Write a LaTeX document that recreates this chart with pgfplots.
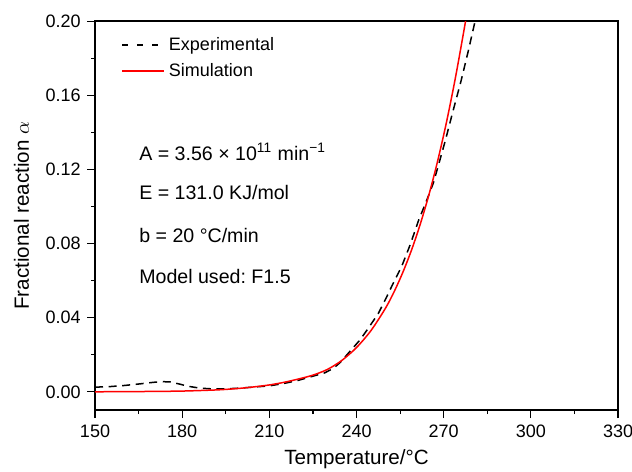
\documentclass[border=0pt]{standalone}
\usepackage{pgfplots}
\pgfplotsset{compat=1.18}
\usepackage{fontspec}
\setmainfont{Liberation Sans}
\begin{document}
\frenchspacing
\fontsize{9pt}{11pt}\selectfont
\begin{tikzpicture}
\begin{axis}[
  scale only axis,
  width=261.5pt, height=194.5pt,
  xmin=150, xmax=330, ymin=-0.0099, ymax=0.20,
  xtick={150,180,...,330},
  ytick={0,0.04,...,0.2},
  minor x tick num=1, minor y tick num=1,
  tick align=outside, xtick pos=bottom, ytick pos=left,
  major tick length=4pt, minor tick length=2pt,
  axis line style={line width=0.8pt},
  every tick/.style={black, line width=0.6pt},
  /pgf/number format/assume math mode=true,
  yticklabel style={/pgf/number format/.cd, fixed, fixed zerofill, precision=2},
  xticklabel style={/pgf/number format/1000 sep={}},
  tick label style={font=\fontsize{9pt}{11pt}\selectfont},
  label style={font=\fontsize{10.3pt}{12pt}\selectfont},
  xlabel={Temperature/°C},
  ylabel={Fractional reaction $\alpha$},
  xlabel style={yshift=0pt},
  ylabel style={yshift=2pt},
  clip=true,
  legend style={at={(0.046,0.975)}, anchor=north west, draw=none, fill=none,
    font=\fontsize{9pt}{11pt}\selectfont, row sep=1pt, inner sep=1pt},
  legend cell align=left,
  legend image code/.code={\draw[#1] (0pt,0pt) -- (21pt,0pt);},
]
\addlegendimage{black, line width=0.75pt, dash pattern=on 3pt off 4.5pt}
\addlegendentry{Experimental}
\addlegendimage{red, line width=0.75pt}
\addlegendentry{Simulation}
\addplot[black, line width=0.75pt, dash pattern=on 4pt off 2.8pt, forget plot] coordinates {
(150,0.0025) (155,0.0028) (160,0.0034) (165,0.0042) (170,0.0051) (173,0.0055)
(176,0.0053) (179,0.0042) (182,0.0030) (186,0.0020) (190,0.0016) (195,0.0016)
(200,0.0020) (205,0.0026) (210,0.0032) (215,0.0045) (220,0.0062) (224,0.0080)
(226.3,0.0090) (229,0.0102) (232,0.0126) (234.5,0.0160) (236.6,0.0198)
(241.2,0.0280) (244,0.0342) (247.5,0.0423) (250,0.0500) (252.6,0.0585)
(255.5,0.0675) (258.5,0.0795) (261.4,0.0927) (264,0.1027) (266.4,0.1125)
(268.5,0.1240) (270.6,0.1358) (273.2,0.1515) (275.9,0.1673) (278.4,0.1835)
(280.8,0.2000) (281.5,0.2045)
};
\addplot[red, line width=0.75pt, smooth, forget plot] coordinates {
(150,0) (160,0.0001) (170,0.0002) (180,0.0004) (190,0.0009) (195,0.0013)
(200,0.0019) (205,0.0027) (210,0.0037) (215,0.0051) (220,0.0069) (225,0.0090)
(230,0.0121) (235,0.0170) (240,0.0239) (245,0.0331) (250,0.0452) (253,0.0542)
(256,0.0647) (259,0.0768) (262,0.0908) (265,0.1068) (268,0.1251) (271,0.1458)
(274,0.1692) (277,0.1953) (278,0.2047)
};
\begin{scope}[every node/.style={anchor=west, inner sep=0pt, font=\fontsize{9.8pt}{12pt}\selectfont}]
\node at (axis cs:165.1,0.1294) {A = 3.56 × 10\textsuperscript{11} min\textsuperscript{−1}};
\node at (axis cs:165.1,0.1078) {E = 131.0 KJ/mol};
\node at (axis cs:165.1,0.0846) {b = 20 °C/min};
\node at (axis cs:165.1,0.0624) {Model used: F1.5};
\end{scope}
\coordinate (bl) at (axis cs:117.3,-0.0428);
\coordinate (tr) at (axis cs:334.8,0.2114);
\end{axis}
\pgfresetboundingbox
\useasboundingbox (bl) rectangle (tr);
\end{tikzpicture}
\end{document}
